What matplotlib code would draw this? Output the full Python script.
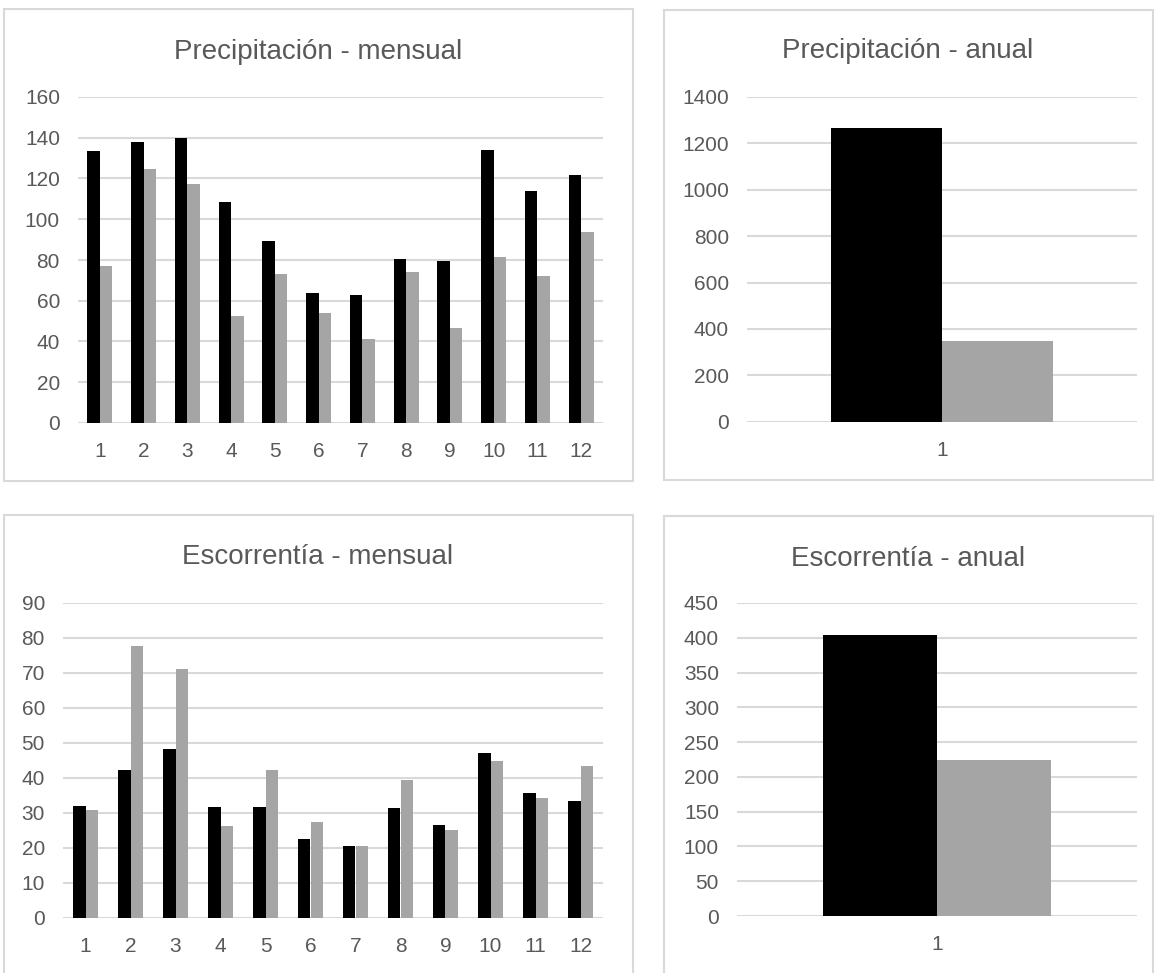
import numpy as np
import matplotlib
matplotlib.use("Agg")
import matplotlib.pyplot as plt
from matplotlib.patches import Rectangle

plt.rcParams['font.family'] = ['Liberation Sans', 'DejaVu Sans']

months = ['1', '2', '3', '4', '5', '6', '7', '8', '9', '10', '11', '12']

precip_black = [133.6, 138.0, 139.9, 108.6, 89.1, 64.0, 62.7, 80.3, 79.7, 134.2, 114.1, 121.8]
precip_gray = [77.2, 124.9, 117.4, 52.7, 73.3, 53.9, 41.3, 74.0, 46.4, 81.6, 72.2, 93.6]

runoff_black = [32.0, 42.2, 48.2, 31.7, 31.7, 22.5, 20.5, 31.3, 26.6, 47.1, 35.6, 33.4]
runoff_gray = [30.9, 77.6, 71.0, 26.1, 42.2, 27.5, 20.5, 39.4, 25.0, 44.9, 34.2, 43.4]

precip_annual = [1267, 348]
runoff_annual = [404, 225]

BLACK = '#000000'
GRAY = '#a5a5a5'
GRID = '#d9d9d9'
TXT = '#595959'

W, H = 1154, 973
fig = plt.figure(figsize=(W / 100, H / 100), dpi=100)


def px_axes(x0, x1, ytop, ybot):
    return fig.add_axes([x0 / W, 1 - ybot / H, (x1 - x0) / W, (ybot - ytop) / H])


def panel(x0, x1, y0, y1):
    fig.patches.append(Rectangle((x0 / W, 1 - y1 / H), (x1 - x0) / W, (y1 - y0) / H,
                                 transform=fig.transFigure, fill=False,
                                 edgecolor=GRID, linewidth=1.5))


def bars(ax, labels, black, gray, ymax, step, title, tx, ty):
    x = np.arange(len(labels))
    w = 1 / 3.5
    ax.bar(x - w / 2, black, w, color=BLACK, zorder=3)
    ax.bar(x + w / 2, gray, w, color=GRAY, zorder=3)
    ax.set_xlim(-0.5, len(labels) - 0.5)
    ax.set_ylim(0, ymax)
    ax.set_yticks(np.arange(0, ymax + step / 2, step))
    ax.set_xticks(x)
    ax.set_xticklabels(labels)
    ax.yaxis.grid(True, color=GRID, linewidth=1.5, zorder=0)
    ax.set_axisbelow(True)
    for s in ax.spines.values():
        s.set_visible(False)
    ax.tick_params(length=0, labelsize=15, labelcolor=TXT)
    ax.tick_params(axis='y', pad=13)
    ax.tick_params(axis='x', pad=14)
    fig.text(tx / W, 1 - ty / H, title, ha='center', va='baseline',
             fontsize=20, color=TXT)


# chart frames
panel(4, 633, 9, 481)
panel(664, 1153, 10, 480)
panel(4, 633, 515, 990)
panel(664, 1153, 516, 990)

ax1 = px_axes(78, 603, 97, 423)
bars(ax1, months, precip_black, precip_gray, 160, 20, 'Precipitación - mensual', 318, 59)

ax2 = px_axes(747, 1137, 97, 421.7)
bars(ax2, ['1'], [precip_annual[0]], [precip_annual[1]], 1400, 200, 'Precipitación - anual', 908, 58)

ax3 = px_axes(63, 603, 603, 917.7)
bars(ax3, months, runoff_black, runoff_gray, 90, 10, 'Escorrentía - mensual', 318, 564)

ax4 = px_axes(737, 1137, 603, 916)
bars(ax4, ['1'], [runoff_annual[0]], [runoff_annual[1]], 450, 50, 'Escorrentía - anual', 908, 566)

fig.savefig('out.png', dpi=100)
